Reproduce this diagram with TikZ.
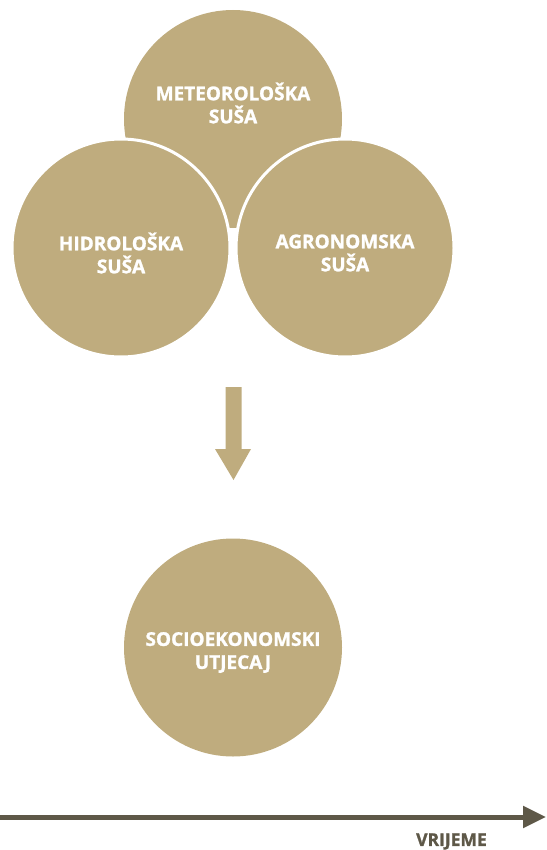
\documentclass[tikz,border=0pt]{standalone}
\usepackage{fontspec}
\setmainfont{Open Sans}[BoldFeatures={FakeBold=1.3}]
\usetikzlibrary{arrows.meta,positioning}
\definecolor{sgold}{HTML}{BFAC7E}
\definecolor{sdark}{HTML}{5E5848}
\tikzset{
  disc/.style  = {circle, fill=sgold, inner sep=0pt, minimum size=218pt},
  cut/.style   = {disc, draw=white, line width=3pt},
  lbl/.style   = {text=white, font=\bfseries\fontsize{19}{23}\selectfont,
                  align=center, inner sep=0pt},
  timeax/.style= {sdark, line width=5pt, -{Triangle[length=23pt, width=21pt]}},
}
\begin{document}
\begin{tikzpicture}[x=1pt, y=-1pt]
\useasboundingbox (0,0) rectangle (546,850);
% ---- the three kinds of drought ----
\node[disc] (meteo) at (233,119) {};
\node[cut]  (hidro) at (121,248) {};
\node[cut]  (agro)  at (345,248) {};
\node[lbl] at ([yshift=16pt]meteo.center) {METEOROLOŠKA\\SUŠA};
\node[lbl] at ([yshift=-5pt]hidro.center) {HIDROLOŠKA\\SUŠA};
\node[lbl] at ([yshift=-5pt]agro.center)  {AGRONOMSKA\\SUŠA};
% ---- block arrow down ----
\fill[sgold] (225.5,387) -- (241.5,387) -- (241.5,449) -- (251,449)
             -- (233.5,480) -- (215,449) -- (225.5,449) -- cycle;
% ---- impact ----
\node[disc] (socio) at (233,647.5) {};
\node[lbl] at ([yshift=-5pt]socio.center) {SOCIOEKONOMSKI\\UTJECAJ};
% ---- time axis ----
\coordinate (t0) at (0,817);
\coordinate (t1) at (546,817);
\draw[timeax] (t0) -- (t1);
\node[sdark, font=\bfseries\fontsize{17.5}{20}\selectfont, inner sep=0pt]
     (vrijeme) at (451.5,841.5) {VRIJEME};
\end{tikzpicture}
\end{document}
